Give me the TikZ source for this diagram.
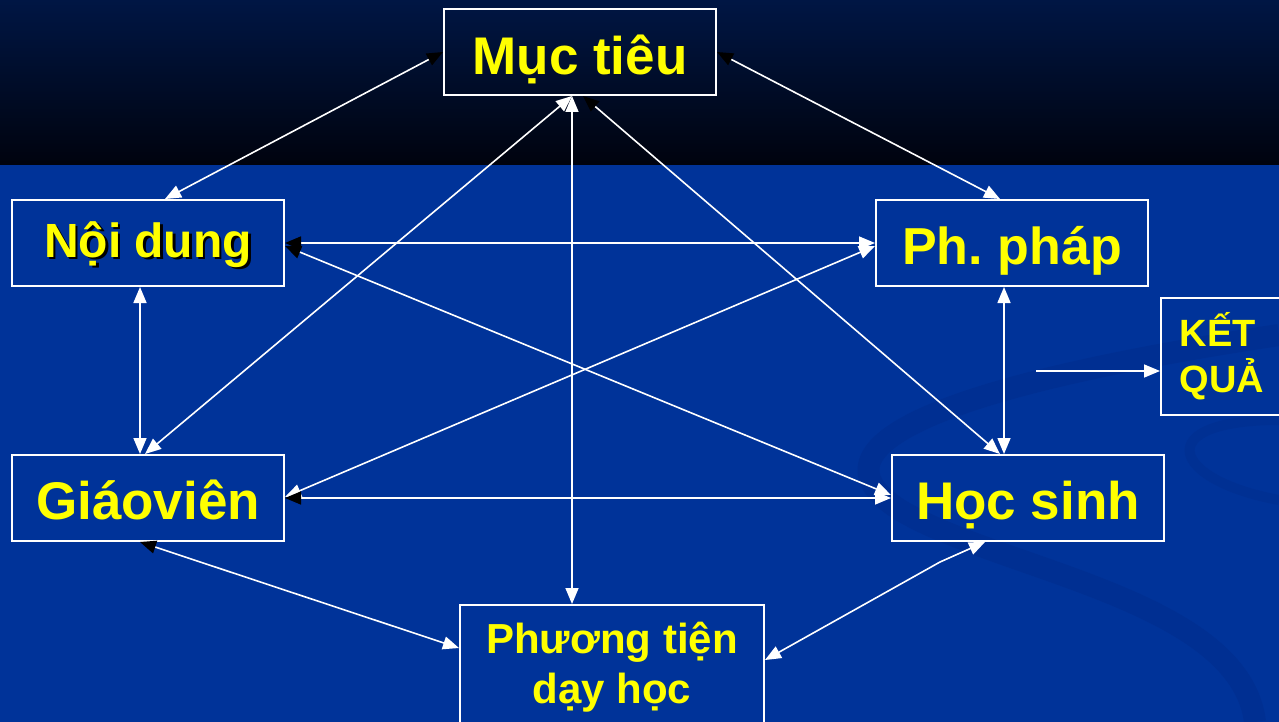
\documentclass[tikz,border=0pt]{standalone}
\usepackage{fontspec}
\setmainfont{Liberation Sans}
\usetikzlibrary{arrows.meta,calc}
\definecolor{bgblue}{RGB}{0,51,153}
\definecolor{swirlblue}{RGB}{0,40,130}
\definecolor{topA}{RGB}{0,22,68}
\definecolor{topB}{RGB}{0,3,14}
\definecolor{ylw}{RGB}{255,255,0}
\frenchspacing
\begin{document}
\begin{tikzpicture}[x=1pt,y=-1pt,
  box/.style={draw=white,line width=2pt,minimum width=272pt,minimum height=86pt,inner sep=0pt,text=ylw,text height=44pt,text depth=2pt,font=\bfseries\fontsize{53}{60}\selectfont},
  conn/.style={white,line width=1.6pt},
  bi/.style={conn,arrows={Triangle[length=16pt,width=13pt]-Triangle[length=16pt,width=13pt]}},
  bk/.style={conn,arrows={Triangle[black,length=16pt,width=13pt]-Triangle[length=16pt,width=13pt]}},
  one/.style={conn,arrows={-Triangle[length=16pt,width=13pt]}}]
\useasboundingbox (0,0) rectangle (1279,722);
% background
\fill[bgblue] (0,0) rectangle (1279,722);
\draw[swirlblue,line width=22pt,opacity=0.3] (1279,335) .. controls (980,380) and (790,440) .. (900,510) .. controls (1000,570) and (1240,600) .. (1255,722);
\draw[swirlblue,line width=10pt,opacity=0.25] (1279,420) .. controls (1150,420) and (1170,480) .. (1279,500);
\shade[top color=topA,bottom color=topB] (0,0) rectangle (1279,165);
% nodes
\node[box,text height=48pt] (mt) at (580,52) {Mục tiêu};
\node[box,text height=30pt,font=\bfseries\fontsize{48}{56}\selectfont] (nd) at (148,243) {\rlap{\kern2.5pt\raisebox{-2.5pt}{\color{black}Nội dung}}Nội dung};
\node[box,font=\bfseries\fontsize{52}{60}\selectfont] (pp) at (1012,243) {Ph. pháp};
\node[box] (gv) at (148,498) {Giáoviên};
\node[box] (hs) at (1028,498) {Học sinh};
\node[box,minimum width=122pt,minimum height=117pt,text height=,text depth=,align=left,font=\bfseries\fontsize{38}{46}\selectfont] (kq) at (1222,356.5) {KẾT\\QUẢ};
\node[box,minimum width=304pt,minimum height=124pt,text height=,text depth=,align=center,font=\bfseries\fontsize{42}{50}\selectfont] (pt) at (612,667) {Phương tiện\\dạy học};
\coordinate (kqin) at (1036,371);
\coordinate (bend) at (940,562);
% connectors
\draw[bk] (mt.west) -- ([xshift=17pt]nd.north);
\draw[bk] (mt.east) -- ([xshift=-12pt]pp.north);
\draw[bi] ([xshift=-8pt]mt.south) -- ([xshift=-40pt]pt.north);
\draw[bi] ([xshift=-8pt]mt.south) -- ([xshift=-3pt]gv.north);
\draw[bk] ([xshift=3pt]mt.south) -- ([xshift=-28pt]hs.north);
\draw[bk] (nd.east) -- (pp.west);
\draw[bk] ([yshift=-3pt]nd.east) -- ([yshift=3pt]hs.west);
\draw[bi] ([xshift=-8pt]nd.south) -- ([xshift=-8pt]gv.north);
\draw[bi] ([yshift=-3pt]pp.west) -- ([yshift=1pt]gv.east);
\draw[bk] (gv.east) -- (hs.west);
\draw[bi] ([xshift=-8pt]pp.south) -- ([xshift=-24pt]hs.north);
\draw[one] (kqin) -- ([yshift=-14.5pt]kq.west);
\draw[bk] ([xshift=-8pt]gv.south) -- ([yshift=19pt]pt.west);
\draw[bi] ([xshift=-43pt]hs.south) -- (bend) -- ([yshift=7pt]pt.east);
\end{tikzpicture}
\end{document}
